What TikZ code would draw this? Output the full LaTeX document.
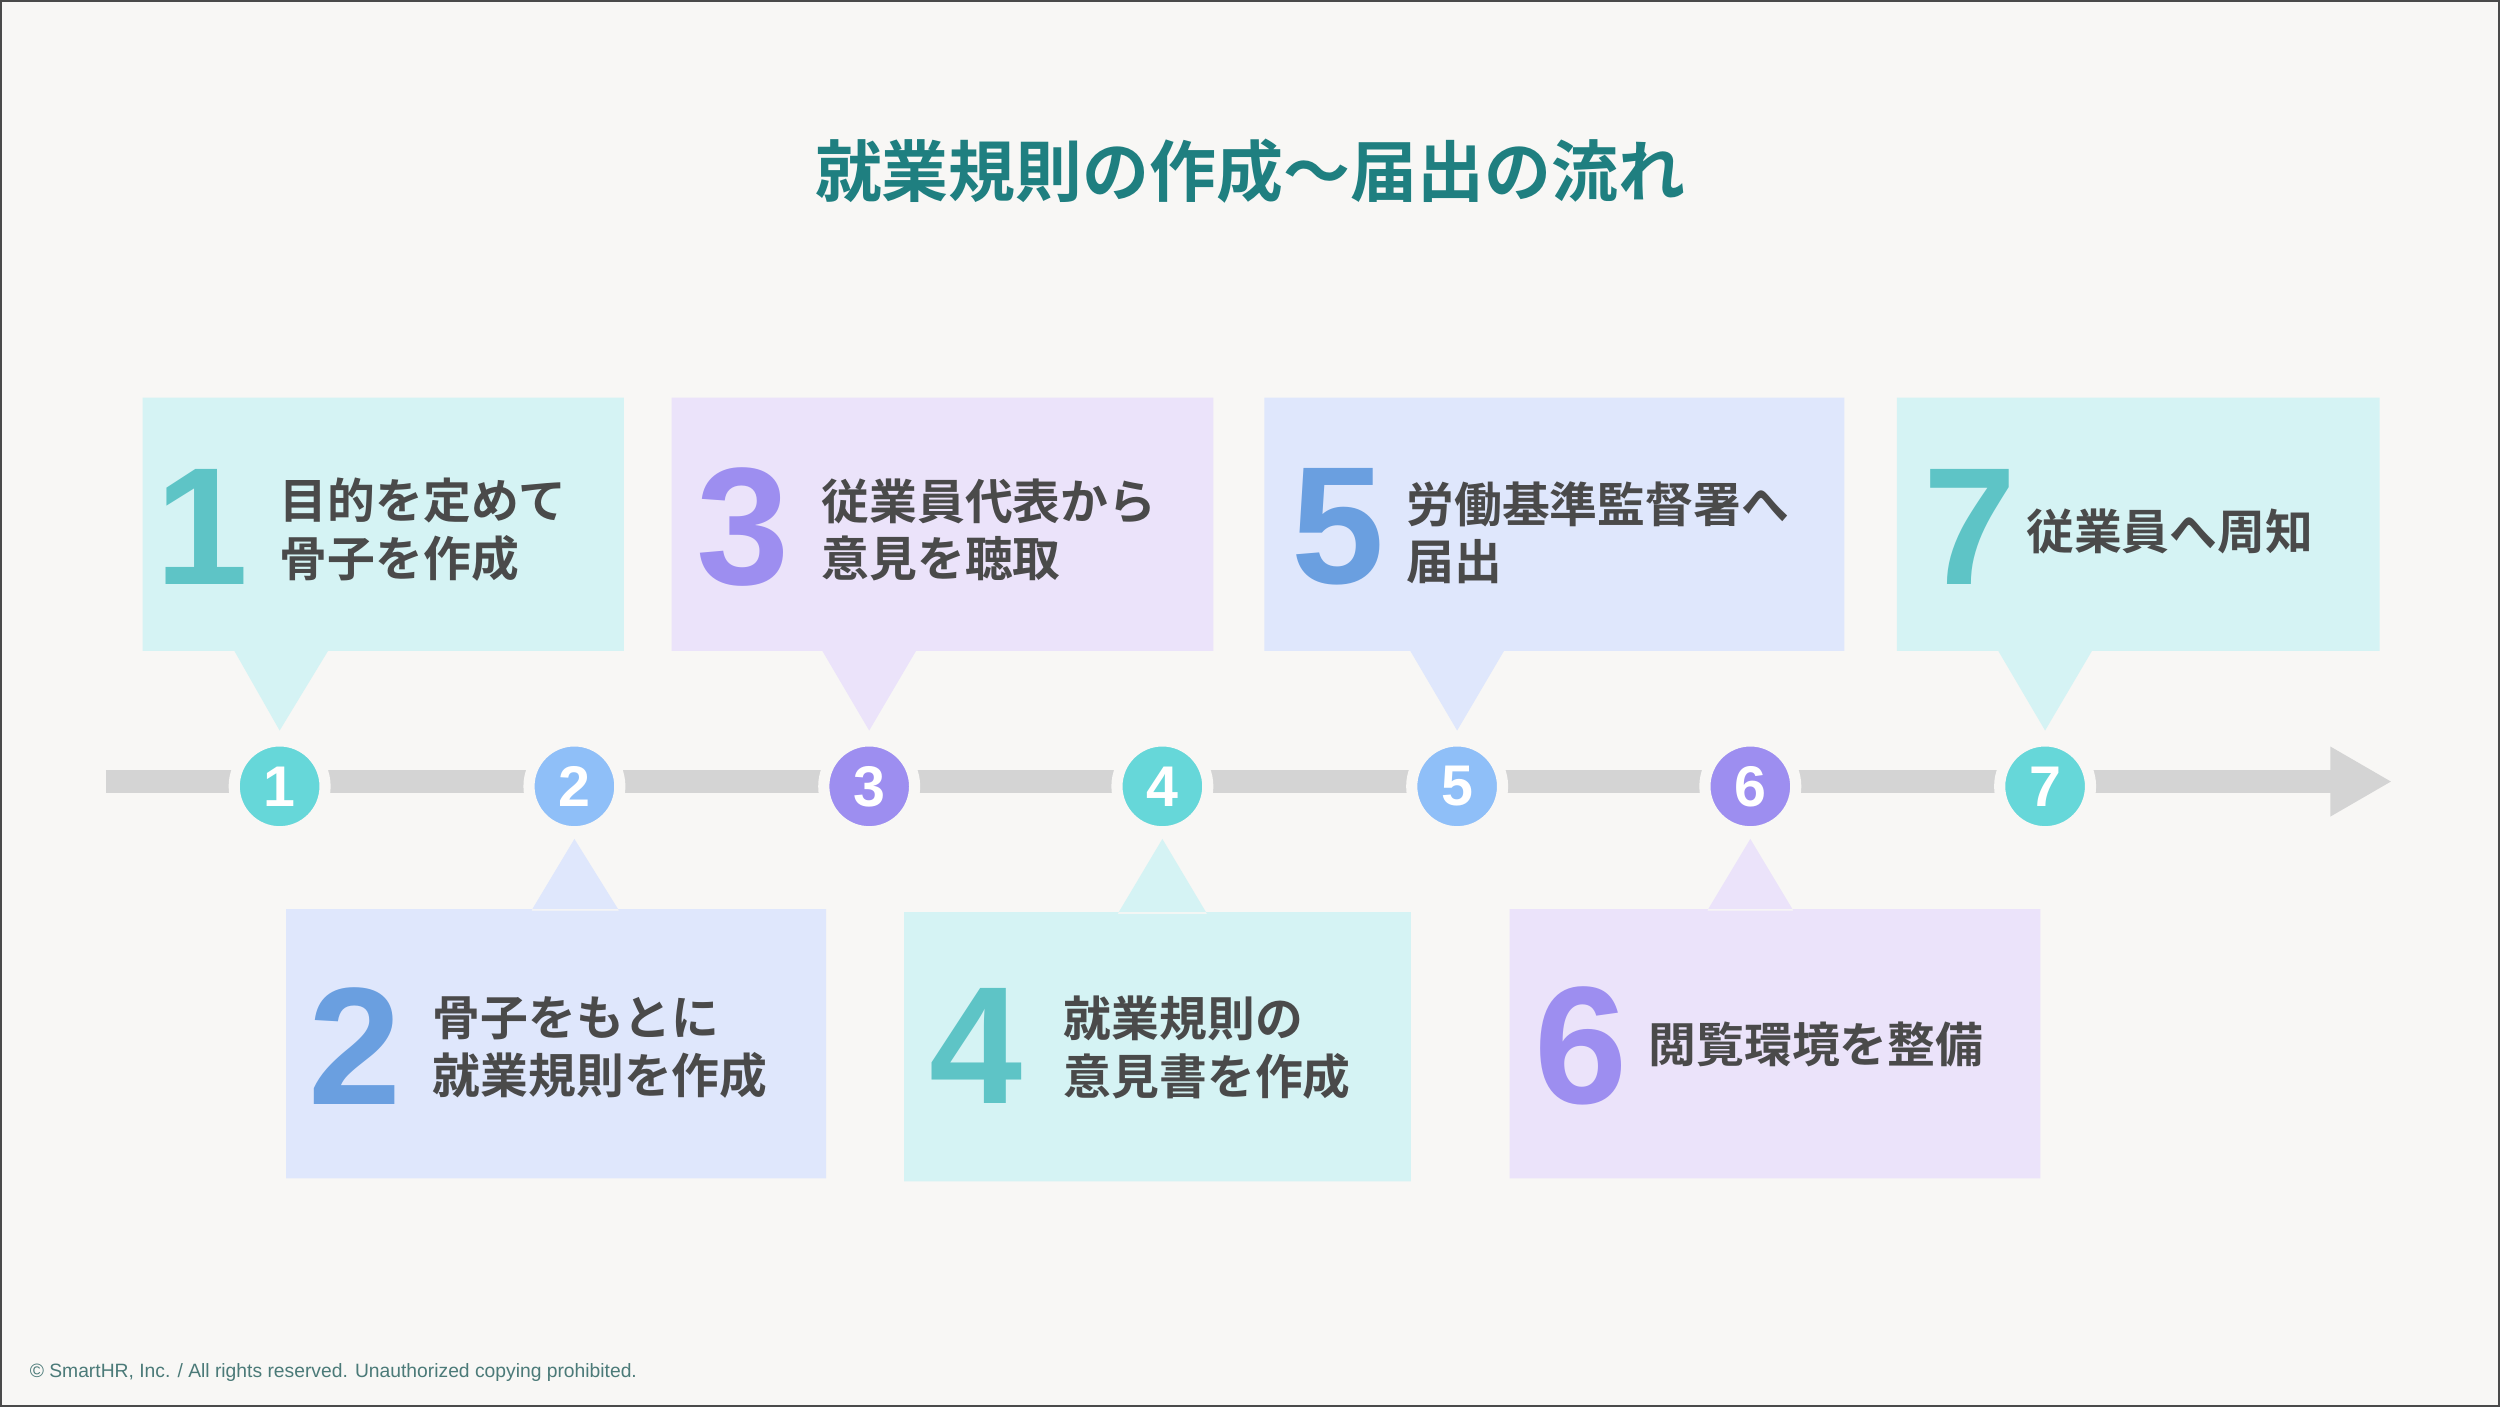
\documentclass[tikz,border=0pt]{standalone}
\usepackage{fontspec}
\setmainfont{Liberation Sans}
\newfontfamily\jp{Noto Sans CJK JP}[BoldFont={* Bold}]
\usetikzlibrary{positioning}
\definecolor{bg}{HTML}{F8F7F5}
\definecolor{ttl}{HTML}{1F7F80}
\definecolor{cC}{HTML}{66D7D9}
\definecolor{cB}{HTML}{8FBFF8}
\definecolor{cP}{HTML}{9D8EF0}
\definecolor{fC}{HTML}{D5F3F4}
\definecolor{fB}{HTML}{DFE7FC}
\definecolor{fP}{HTML}{EBE3FA}
\definecolor{nC}{HTML}{5EC4C6}
\definecolor{nB}{HTML}{6A9FE0}
\definecolor{nP}{HTML}{9D8EF0}
\definecolor{txt}{HTML}{4A4A4A}
\definecolor{lin}{HTML}{D4D4D4}
\definecolor{foot}{HTML}{4B7A78}
\tikzset{
 dot/.style={circle,draw=bg,line width=7pt,minimum size=57pt,inner sep=0pt,text=white,font=\bfseries\fontsize{36}{36}\selectfont},
 bignum/.style={font=\bfseries\fontsize{105}{105}\selectfont,inner sep=0pt},
 lbl/.style={anchor=west,align=left,text=txt,inner sep=0pt,font=\jp\bfseries\fontsize{30}{36}\selectfont},
}
\begin{document}
\begin{tikzpicture}[x=1pt,y=-1pt]
\fill[bg,draw=txt,line width=1pt] (0,0) rectangle (1568,882);
\useasboundingbox (0,0) rectangle (1568,882);
\node[text=ttl,font=\jp\bfseries\fontsize{42}{42}\selectfont] (title) at (784,107) {就業規則の作成〜届出の流れ};
% timeline
\coordinate (ls) at (66,490);
\coordinate (le) at (1464,490);
\draw[lin,line width=14pt] (ls) -- (le);
\fill[lin] (1462,468) -- (1500,490) -- (1462,512) -- cycle;
% boxes top
\fill[fC] (89,249) rectangle (391,408) (146,407) -- (175,458) -- (206,407) -- cycle;
\fill[fP] (421,249) rectangle (761,408) (515,407) -- (545,458) -- (575,407) -- cycle;
\fill[fB] (793,249) rectangle (1157,408) (884,407) -- (914,458) -- (944,407) -- cycle;
\fill[fC] (1190,249) rectangle (1493,408) (1253,407) -- (1283,458) -- (1313,407) -- cycle;
% boxes bottom
\fill[fB] (179,570) rectangle (518,739) (333,571) -- (360,526) -- (388,571) -- cycle;
\fill[fC] (567,572) rectangle (885,741) (701,573) -- (729,526) -- (757,573) -- cycle;
\fill[fP] (947,570) rectangle (1280,739) (1071,571) -- (1098,526) -- (1125,571) -- cycle;
% dots
\node[dot,fill=cC] (d1) at (175,493) {1};
\node[dot,fill=cB] (d2) at (360,493) {2};
\node[dot,fill=cP] (d3) at (545,493) {3};
\node[dot,fill=cC] (d4) at (729,493) {4};
\node[dot,fill=cB] (d5) at (914,493) {5};
\node[dot,fill=cP] (d6) at (1098,493) {6};
\node[dot,fill=cC] (d7) at (1283,493) {7};
% big numbers
\node[bignum,text=nC] (n1) at (126,330) {1};
\node[bignum,text=nP] (n3) at (466,330) {3};
\node[bignum,text=nB] (n5) at (839,330) {5};
\node[bignum,text=nC] (n7) at (1236,330) {7};
\node[bignum,text=nB] (n2) at (222,656) {2};
\node[bignum,text=nC] (n4) at (612,656) {4};
\node[bignum,text=nP] (n6) at (992,656) {6};
% labels
\node[lbl] (t1) at (175,332) {目的を定めて\\骨子を作成};
\node[lbl] (t3) at (515,332) {従業員代表から\\意見を聴取};
\node[lbl] (t5) at (882,334) {労働基準監督署へ\\届出};
\node[lbl] (t7) at (1271,333) {従業員へ周知};
\node[lbl] (t2) at (271,657) {骨子をもとに\\就業規則を作成};
\node[lbl] (t4) at (667,657) {就業規則の\\意見書を作成};
\node[lbl] (t6) at (1034,655) {閲覧環境を整備};
\node[anchor=west,text=foot,font=\fontsize{12.1}{12.1}\selectfont,inner sep=0pt] (ft) at (18,861) {© SmartHR, Inc. / All rights reserved. Unauthorized copying prohibited.};
\end{tikzpicture}
\end{document}
